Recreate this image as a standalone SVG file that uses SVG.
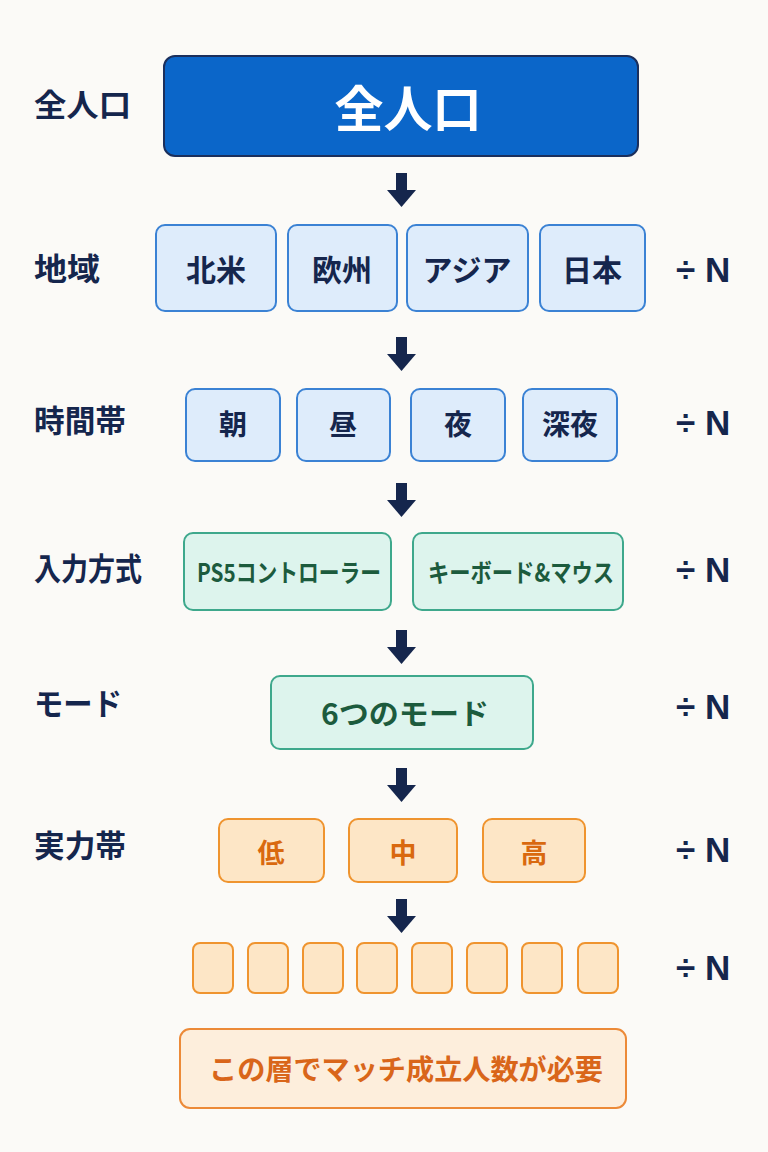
<svg xmlns="http://www.w3.org/2000/svg" width="768" height="1152" viewBox="0 0 768 1152">
<defs>
<style>
text{font-family:"Noto Sans CJK JP","Noto Sans",sans-serif;font-weight:700;text-anchor:middle;dominant-baseline:central}
.lbl{fill:#15264d;font-size:31px;text-anchor:start}
.div{fill:#15264d;font-size:35px;font-family:"Liberation Sans",Arial,sans-serif;text-anchor:start}
.blue rect{fill:#deecfb;stroke:#3b82d4;stroke-width:2}
.blue text{fill:#15264d}
.green rect{fill:#ddf4ed;stroke:#3ea88c;stroke-width:2}
.green text{fill:#1c5b3d}
.orange rect{fill:#fde6c6;stroke:#ef942f;stroke-width:2}
.orange text{fill:#d9690f}
.arrow{fill:#15264d}
</style>
<g id="arrowShape"><rect x="-5.5" y="0" width="11" height="19"/><polygon points="-14.5,17 14.5,17 0,34"/></g>
</defs>
<rect width="768" height="1152" fill="#fbfaf7"/>

<g id="labels">
<text class="lbl" x="34" y="102" textLength="97" lengthAdjust="spacingAndGlyphs">全人口</text>
<text class="lbl" x="34" y="266" textLength="66" lengthAdjust="spacingAndGlyphs">地域</text>
<text class="lbl" x="34" y="418" textLength="92" lengthAdjust="spacingAndGlyphs">時間帯</text>
<text class="lbl" x="34" y="566" textLength="108" lengthAdjust="spacingAndGlyphs">入力方式</text>
<text class="lbl" x="34" y="701" textLength="88" lengthAdjust="spacingAndGlyphs">モード</text>
<text class="lbl" x="34" y="843" textLength="92" lengthAdjust="spacingAndGlyphs">実力帯</text>
</g>

<g id="divisors">
<text class="div" x="676" y="269">÷ N</text>
<text class="div" x="676" y="422">÷ N</text>
<text class="div" x="676" y="569">÷ N</text>
<text class="div" x="676" y="706">÷ N</text>
<text class="div" x="676" y="849">÷ N</text>
<text class="div" x="676" y="967">÷ N</text>
</g>

<g id="node-total">
<rect x="164" y="56" width="474" height="100" rx="11" fill="#0b66c9" stroke="#1b2f5c" stroke-width="2"/>
<text x="408" y="105" fill="#ffffff" font-size="49">全人口</text>
</g>

<g id="node-region" class="blue">
<rect x="156" y="225" width="120" height="86" rx="9"/><text x="216" y="268" font-size="30">北米</text>
<rect x="288" y="225" width="109" height="86" rx="9"/><text x="342" y="268" font-size="30">欧州</text>
<rect x="407" y="225" width="121" height="86" rx="9"/><text x="467" y="268" font-size="30">アジア</text>
<rect x="540" y="225" width="105" height="86" rx="9"/><text x="592" y="268" font-size="30">日本</text>
</g>

<g id="node-time" class="blue">
<rect x="186" y="389" width="94" height="72" rx="9"/><text x="233" y="423" font-size="28">朝</text>
<rect x="297" y="389" width="93" height="72" rx="9"/><text x="343" y="423" font-size="28">昼</text>
<rect x="411" y="389" width="94" height="72" rx="9"/><text x="458" y="423" font-size="28">夜</text>
<rect x="523" y="389" width="94" height="72" rx="9"/><text x="570" y="423" font-size="28">深夜</text>
</g>

<g id="node-input" class="green">
<rect x="184" y="533" width="207" height="77" rx="9"/><text x="289" y="571" font-size="25" textLength="184" lengthAdjust="spacingAndGlyphs">PS5コントローラー</text>
<rect x="413" y="533" width="210" height="77" rx="9"/><text x="521" y="571" font-size="25" textLength="186" lengthAdjust="spacingAndGlyphs">キーボード&amp;マウス</text>
</g>

<g id="node-mode" class="green">
<rect x="271" y="676" width="262" height="73" rx="9"/><text x="405" y="712" font-size="29" textLength="168" lengthAdjust="spacingAndGlyphs">6つのモード</text>
</g>

<g id="node-skill" class="orange">
<rect x="219" y="819" width="105" height="63" rx="9"/><text x="271" y="851" font-size="27">低</text>
<rect x="349" y="819" width="108" height="63" rx="9"/><text x="403" y="851" font-size="27">中</text>
<rect x="483" y="819" width="102" height="63" rx="9"/><text x="534" y="851" font-size="27">高</text>
</g>

<g id="node-buckets" class="orange">
<rect x="193" y="943" width="40" height="50" rx="7"/>
<rect x="248" y="943" width="40" height="50" rx="7"/>
<rect x="303" y="943" width="40" height="50" rx="7"/>
<rect x="357" y="943" width="40" height="50" rx="7"/>
<rect x="412" y="943" width="40" height="50" rx="7"/>
<rect x="467" y="943" width="40" height="50" rx="7"/>
<rect x="522" y="943" width="40" height="50" rx="7"/>
<rect x="578" y="943" width="40" height="50" rx="7"/>
</g>

<g id="node-note">
<rect x="180" y="1029" width="446" height="79" rx="10" fill="#fdeedc" stroke="#ec8a38" stroke-width="2"/>
<text x="406" y="1068" fill="#d9661a" font-size="28" textLength="394" lengthAdjust="spacingAndGlyphs">この層でマッチ成立人数が必要</text>
</g>

<g id="connectors" class="arrow">
<use href="#arrowShape" transform="translate(401.5,173)"/>
<use href="#arrowShape" transform="translate(401.5,337)"/>
<use href="#arrowShape" transform="translate(401.5,483)"/>
<use href="#arrowShape" transform="translate(401.5,630)"/>
<use href="#arrowShape" transform="translate(401.5,768)"/>
<use href="#arrowShape" transform="translate(401.5,899)"/>
</g>
</svg>
